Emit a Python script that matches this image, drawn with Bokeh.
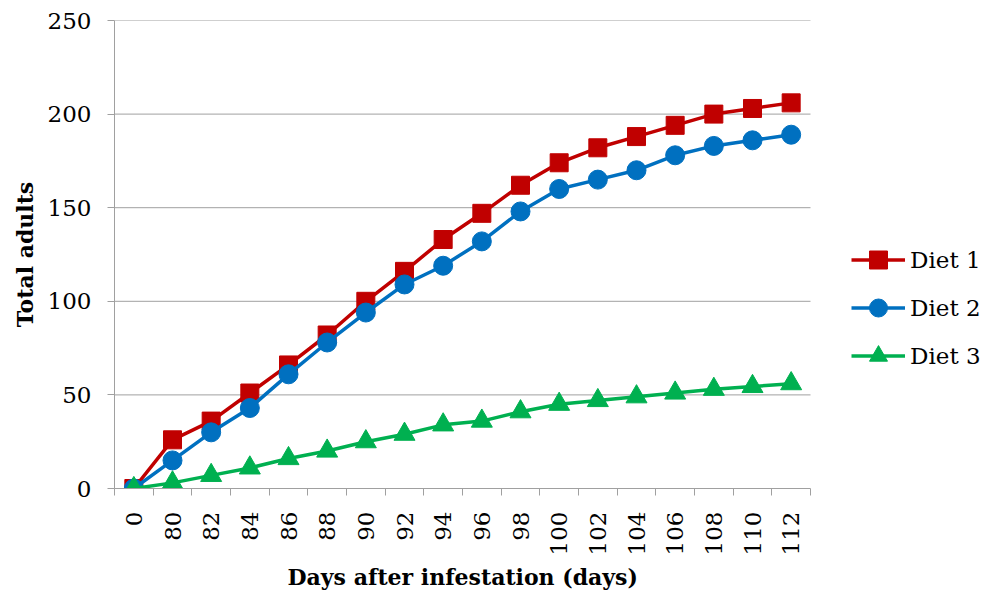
import math
import numpy as np
from bokeh.plotting import figure
from bokeh.models import Range1d, FixedTicker, Legend, LegendItem, Title
from bokeh.embed import file_html
from bokeh.resources import INLINE

# Days after infestation (category labels along the x axis)
days = ["0", "80", "82", "84", "86", "88", "90", "92", "94", "96",
        "98", "100", "102", "104", "106", "108", "110", "112"]

# Cumulative number of adults for each diet
diet1 = [0, 26, 36, 51, 66, 82, 100, 116, 133, 147, 162, 174, 182, 188, 194, 200, 203, 206]
diet2 = [0, 15, 30, 43, 61, 78, 94, 109, 119, 132, 148, 160, 165, 170, 178, 183, 186, 189]
diet3 = [0, 3, 7, 11, 16, 20, 25, 29, 34, 36, 41, 45, 47, 49, 51, 53, 54.5, 56]

y_ticks = [0, 50, 100, 150, 200, 250]

FONT = "DejaVu Serif"
GRID = "#a0a0a0"
TICK_SIZE = "23px"

n = len(days)
centers = np.arange(n) + 0.5          # one slot per category
bounds = list(range(n + 1))           # tick marks sit between categories

# The plotting area runs on to the right edge so the legend can sit beside
# the data; the axis and grid lines stop at the last category.
PLOT_W, FRAME_W = 696, 873
x_end = n * FRAME_W / PLOT_W

p = figure(width=987, height=592, output_backend="svg", toolbar_location=None,
           x_range=Range1d(0, x_end), y_range=Range1d(0, 250),
           min_border_left=114, min_border_right=0,
           min_border_top=20, min_border_bottom=104)
p.outline_line_color = None
p.background_fill_color = "white"
p.border_fill_color = "white"

# x axis: labels at category centres, small ticks at category boundaries
xa = p.xaxis[0]
xa.bounds = (0, n)
xa.ticker = FixedTicker(ticks=list(centers), minor_ticks=bounds)
xa.major_label_overrides = {float(c): d for c, d in zip(centers, days)}
xa.major_label_orientation = math.pi / 2
xa.major_tick_line_color = None
xa.major_tick_out = 0
xa.major_tick_in = 0
xa.minor_tick_line_color = GRID
xa.minor_tick_out = 7
xa.minor_tick_in = 0
xa.axis_line_color = GRID
xa.major_label_standoff = 16
xa.major_label_text_font = FONT
xa.major_label_text_font_size = TICK_SIZE
xa.major_label_text_color = "black"

# x title, centred under the category span rather than the whole area
p.add_layout(Title(text="Days after infestation (days)", align="left",
                   offset=173, standoff=6, text_font=FONT,
                   text_font_style="bold", text_font_size="22px",
                   text_color="black"), "below")

# y axis
ya = p.yaxis[0]
ya.ticker = FixedTicker(ticks=y_ticks)
ya.minor_tick_line_color = None
ya.major_tick_line_color = GRID
ya.major_tick_out = 7
ya.major_tick_in = 0
ya.axis_line_color = GRID
ya.major_label_standoff = 16
ya.major_label_text_font = FONT
ya.major_label_text_font_size = TICK_SIZE
ya.major_label_text_color = "black"
ya.axis_label = "Total adults"
ya.axis_label_text_font = FONT
ya.axis_label_text_font_style = "bold"
ya.axis_label_text_font_size = "22px"
ya.axis_label_text_color = "black"
ya.axis_label_standoff = 7

# horizontal grid lines, limited to the category span
p.xgrid.grid_line_color = None
p.ygrid.grid_line_color = None
grid_y = y_ticks[1:]
p.segment(x0=[0] * len(grid_y), x1=[n] * len(grid_y), y0=grid_y, y1=grid_y,
          line_color=GRID, line_width=1, level="underlay")

series = [
    ("Diet 1", diet1, "#C00000", "square", 18),
    ("Diet 2", diet2, "#0070C0", "circle", 19),
    ("Diet 3", diet3, "#00B050", "triangle", 21),
]

items = []
for name, vals, color, marker, size in series:
    ln = p.line(centers, vals, line_color=color, line_width=3.5)
    sc = p.scatter(centers, vals, marker=marker, size=size,
                   fill_color=color, line_color=color)
    items.append(LegendItem(label=name, renderers=[ln, sc]))

legend = Legend(items=items, location=(737, 110),
                glyph_width=54, glyph_height=45, label_height=45,
                spacing=3, padding=0, margin=0, label_standoff=5,
                border_line_color=None, background_fill_alpha=0,
                label_text_font=FONT, label_text_font_size=TICK_SIZE,
                label_text_color="black", label_text_baseline="middle")
p.add_layout(legend, "center")

open("out.html", "w").write(file_html(p, INLINE))
